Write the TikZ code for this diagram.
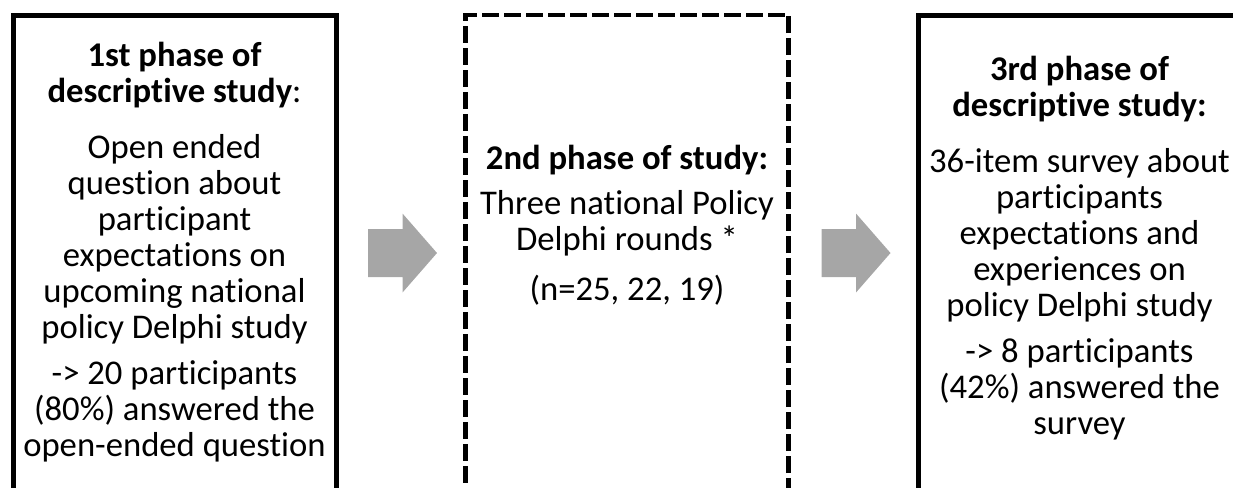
\documentclass[tikz,border=0pt]{standalone}
\usepackage{fontspec}
\setmainfont{Carlito}[Ligatures=NoCommon]
\definecolor{arrowgray}{HTML}{A6A6A6}

\begin{document}
\begin{tikzpicture}[x=0.75pt,y=-0.75pt,
    phasetext/.style={inner sep=0pt, text width=240pt, align=flush center,
      font=\fontsize{26}{27}\selectfont},
    phasebox/.style={draw, line width=3.75pt, minimum width=323*0.75pt,
      minimum height=487*0.75pt, inner sep=0pt},
    dashedbox/.style={phasebox, line width=3.4pt, dash pattern=on 12.75pt off 3.75pt},
    phasearrow/.pic={\fill[arrowgray] (-34.5,-24) -- (0,-24) -- (0,-39.5) -- (34.5,0)
      -- (0,39.5) -- (0,24) -- (-34.5,24) -- cycle;}]
    \useasboundingbox (0,0) rectangle (1233,487);
    \clip (0,0) rectangle (1233,487);
    % three phases
    \node[phasebox] (phase1) at (174.5,258.5) {};
    \node[dashedbox] (phase2) at (627,258.5) {};
    \node[phasebox] (phase3) at (1079.5,258.5) {};
    \node[phasetext] (phase1text) at (174.5,252) {\textbf{1st phase of}\\ \textbf{descriptive study}:\\[15pt]
      Open ended\\ question about\\ participant\\ expectations on\\ upcoming national\\ policy Delphi study\\[7.5pt]
      -> 20 participants\\ (80\%) answered the\\ open-ended question};
    \node[phasetext] (phase2text) at (627,225) {\textbf{2nd phase of study:}\\[7pt]
      Three national Policy\\ Delphi rounds *\\[10pt] (n=25, 22, 19)};
    \node[phasetext] (phase3text) at (1079.5,248) {\textbf{3rd phase of}\\ \textbf{descriptive study:}\\[15pt]
      36-item survey about\\ participants\\ expectations and\\ experiences on\\ policy Delphi study\\[7.5pt]
      -> 8 participants\\ (42\%) answered the\\ survey};
    % block arrows
    \pic at (402.5,253) {phasearrow};
    \pic at (856,253) {phasearrow};
\end{tikzpicture}
\end{document}
